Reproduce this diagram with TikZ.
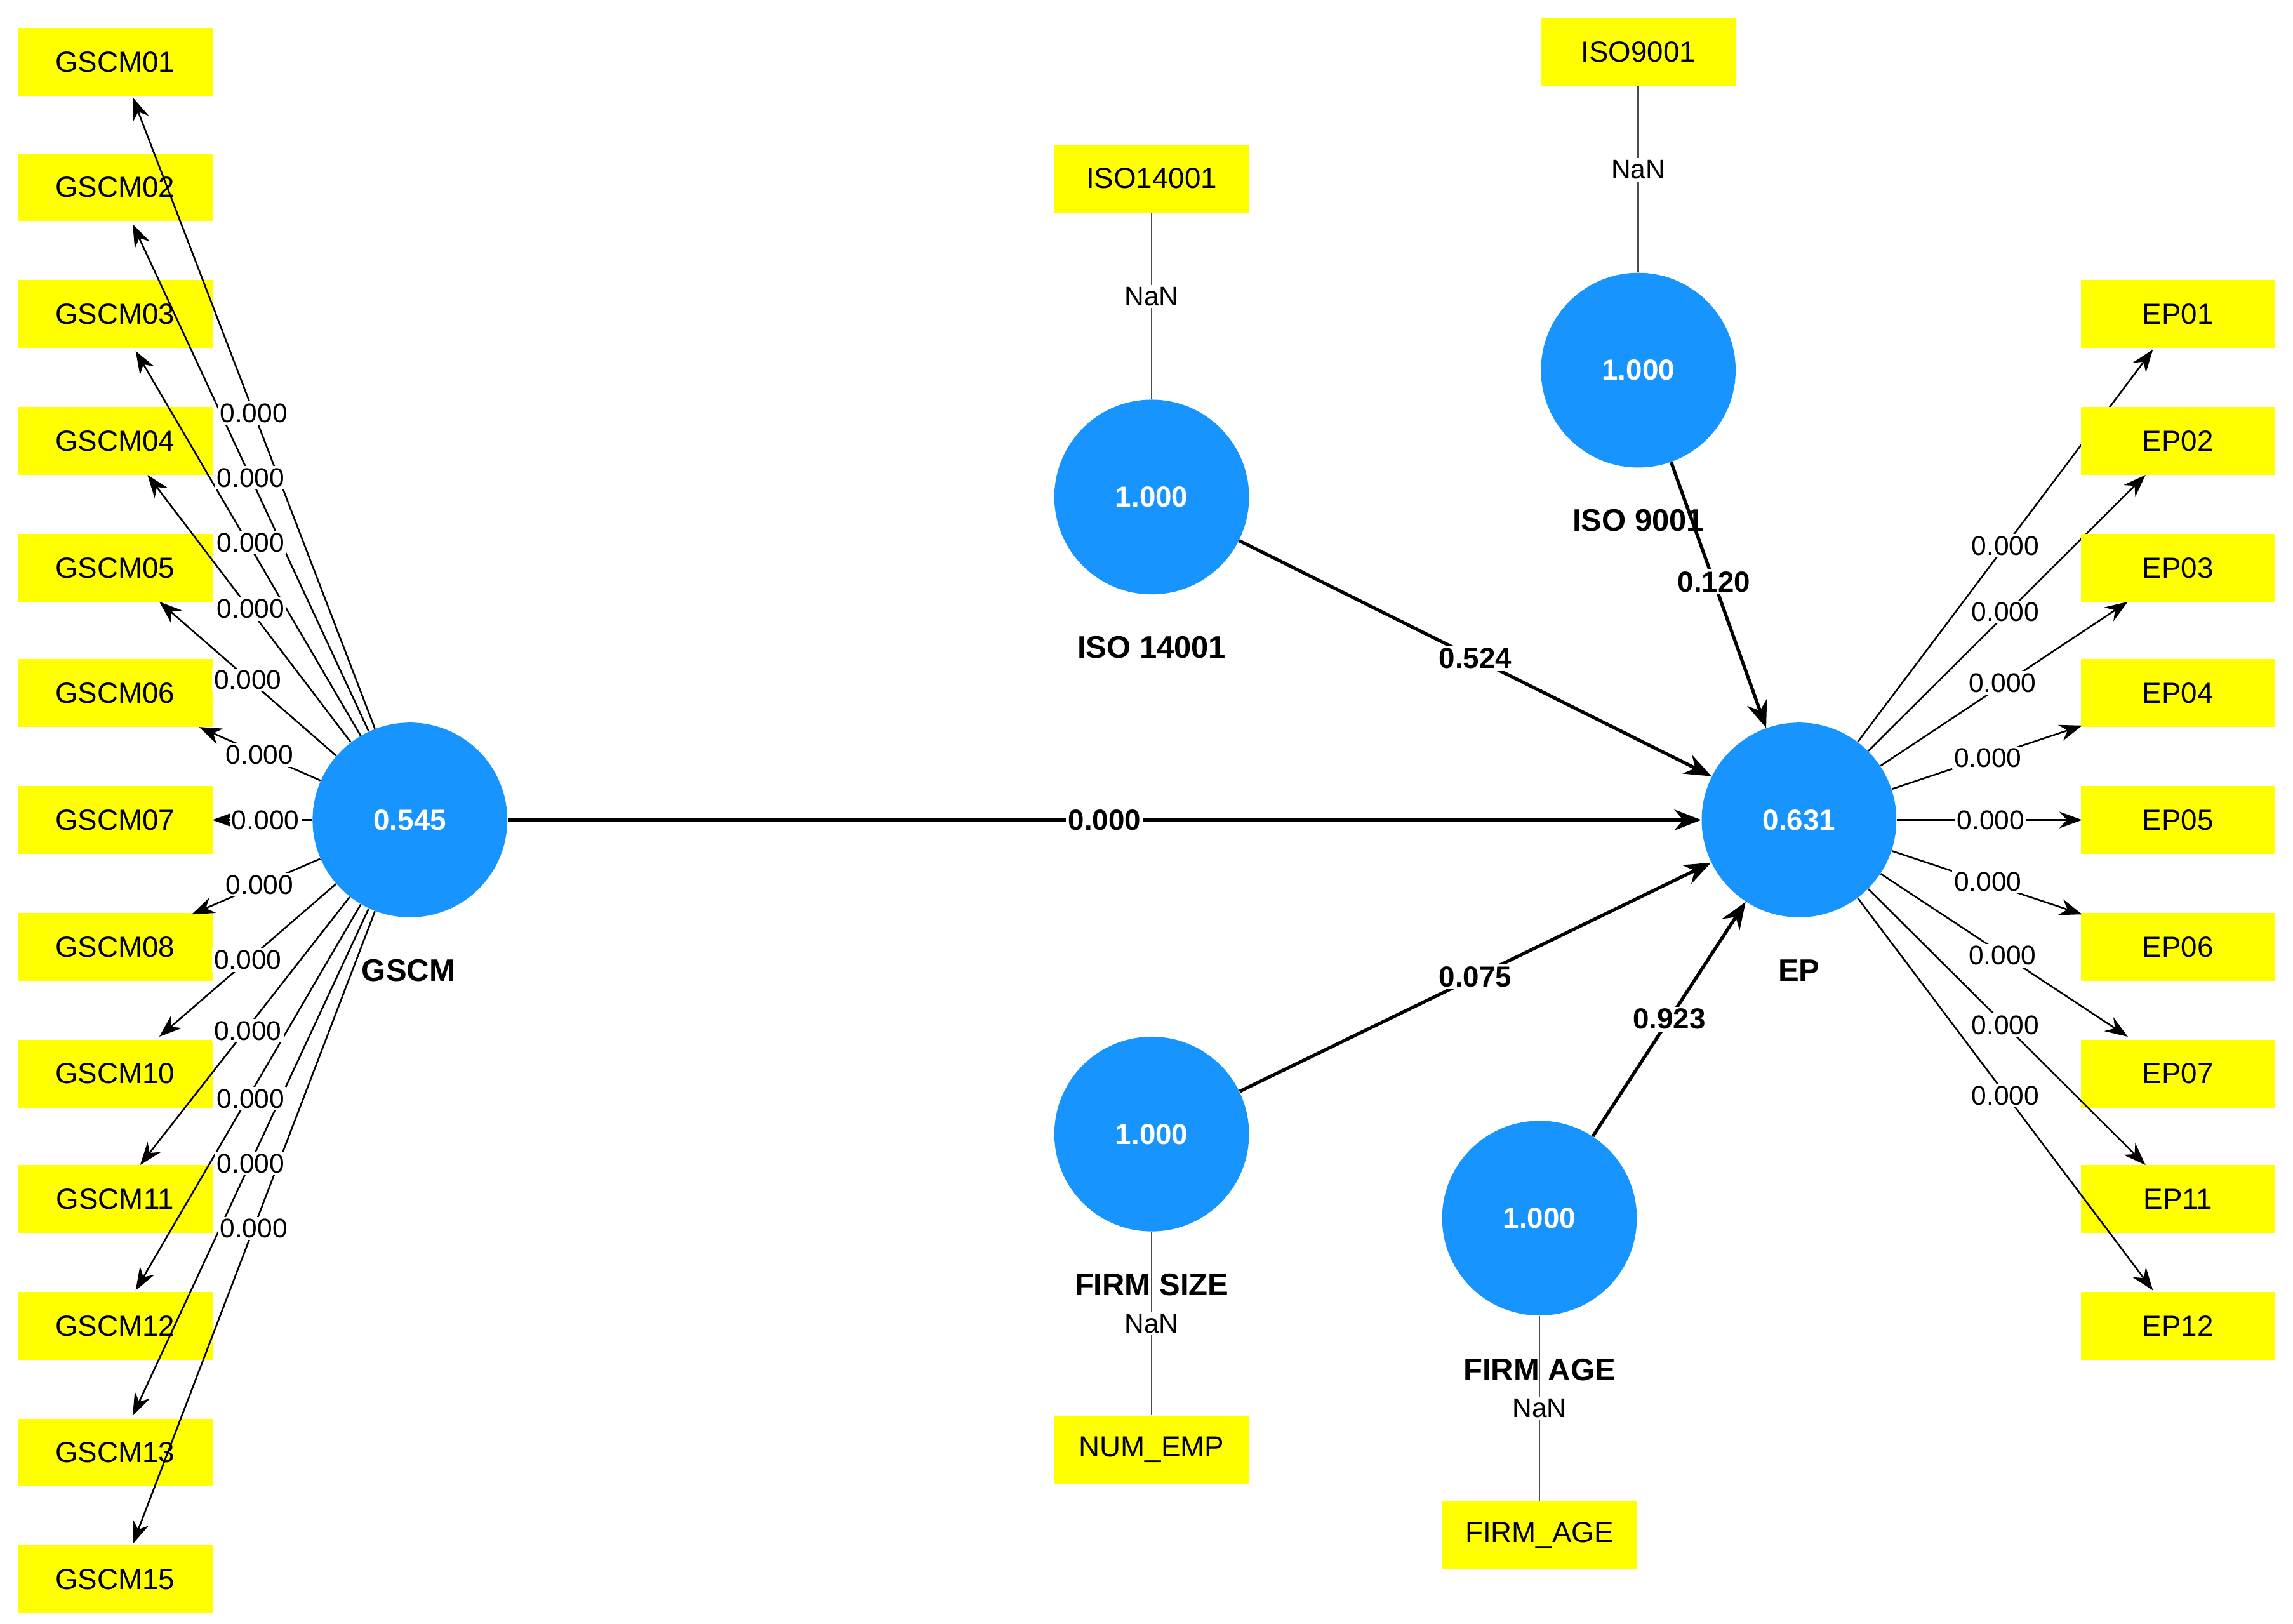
\documentclass[tikz,border=0pt]{standalone}
\usepackage{fontspec}
\setmainfont{Liberation Sans}
\usetikzlibrary{arrows.meta}
\definecolor{lv}{RGB}{24,148,255}
\definecolor{ind}{RGB}{255,255,0}
\begin{document}
\begin{tikzpicture}[x=0.025cm,y=-0.025cm,
 box/.style={fill=ind,minimum width=3.3cm,minimum height=1.15cm,inner sep=0pt,font=\fontsize{14}{16}\selectfont},
 lv/.style={circle,fill=lv,minimum size=3.3cm,inner sep=0pt,text=white,font=\bfseries\fontsize{14}{16}\selectfont},
 nm/.style={font=\bfseries\fontsize{15}{17}\selectfont},
 lab/.style={fill=white,inner sep=1pt,font=\fontsize{13}{15}\selectfont},
 blab/.style={fill=white,inner sep=1pt,font=\bfseries\fontsize{14}{16}\selectfont},
 il/.style={-{Stealth[length=11pt,width=8pt]},line width=0.8pt},
 sl/.style={-{Stealth[length=13pt,width=10pt]},line width=1.6pt},
 pl/.style={line width=0.8pt,draw=black!70}]
\useasboundingbox (0,0) rectangle (1555,1101);
\fill[white] (0,0) rectangle (1555,1101);
% latent variables
\node[lv] (gscm) at (278,556) {0.545};
\node[lv] (ep) at (1220,556) {0.631};
\node[lv] (iso14) at (781,337) {1.000};
\node[lv] (iso9) at (1111,251) {1.000};
\node[lv] (fs) at (781,769) {1.000};
\node[lv] (fa) at (1044,826) {1.000};
\node[nm] (ngscm) at (277,658) {GSCM};
\node[nm] (nep) at (1220,658) {EP};
\node[nm] (niso14) at (781,439) {ISO 14001};
\node[nm] (niso9) at (1111,353) {ISO 9001};
\node[nm] (nfs) at (781,871) {FIRM SIZE};
\node[nm] (nfa) at (1044,929) {FIRM AGE};
% single-indicator boxes
\node[box] (b14) at (781,121) {ISO14001};
\node[box] (b9) at (1111,35) {ISO9001};
\node[box] (bne) at (781,983) {NUM\_EMP};
\node[box] (bfa) at (1044,1041) {FIRM\_AGE};
\draw[pl] (b14) -- (iso14) node[lab,pos=0.45] {NaN};
\draw[pl] (b9) -- (iso9) node[lab,pos=0.45] {NaN};
\draw[pl] (bne) -- (fs) node[lab,pos=0.5] {NaN};
\draw[pl] (bfa) -- (fa) node[lab,pos=0.5] {NaN};
% GSCM indicators
\foreach \n/\y/\tx/\ty/\lx/\ly in {
 01/42/90/66/172/280, 02/127/90/152/170/324, 03/213/92/238/170/368,
 04/299/100/322/170/413, 05/385/108/408/168/461, 06/470/135/493/176/512,
 07/556/144/556/180/556, 08/642/130/620/176/600, 10/728/108/703/168/651,
 11/813/95/790/168/699, 12/899/92/875/170/745, 13/985/90/960/170/789,
 15/1071/90/1047/172/833}{
 \node[box] (g\n) at (78,\y) {GSCM\n};
 \coordinate (gt\n) at (\tx,\ty);
}
\foreach \n/\y/\tx/\ty/\lx/\ly in {
 01/42/90/66/172/280, 02/127/90/152/170/324, 03/213/92/238/170/368,
 04/299/100/322/170/413, 05/385/108/408/168/461, 06/470/135/493/176/512,
 07/556/144/556/180/556, 08/642/130/620/176/600, 10/728/108/703/168/651,
 11/813/95/790/168/699, 12/899/92/875/170/745, 13/985/90/960/170/789,
 15/1071/90/1047/172/833}{
 \draw[il] (gscm) -- (gt\n);
}
\foreach \n/\lx/\ly in {01/172/280,02/170/324,03/170/368,04/170/413,05/168/461,06/176/512,07/180/556,08/176/600,10/168/651,11/168/699,12/170/745,13/170/789,15/172/833}{
 \node[lab] (gl\n) at (\lx,\ly) {0.000};
}
% EP indicators
\foreach \n/\y/\tx/\ty in {01/213/1460/237, 02/299/1455/322, 03/385/1443/408,
 04/470/1412/492, 05/556/1412/556, 06/642/1412/620, 07/728/1443/703,
 11/813/1455/790, 12/899/1460/875}{
 \node[box] (e\n) at (1477,\y) {EP\n};
 \coordinate (et\n) at (\tx,\ty);
 \draw[il] (ep) -- (et\n);
}
\foreach \n/\lx/\ly in {01/1360/370,02/1360/415,03/1358/463,04/1348/514,05/1350/556,06/1348/598,07/1358/648,11/1360/695,12/1360/743}{
 \node[lab] (el\n) at (\lx,\ly) {0.000};
}
% structural paths
\draw[sl] (gscm) -- (ep) node[blab,pos=0.5] {0.000};
\draw[sl] (iso14) -- (ep) node[blab,pos=0.5] {0.524};
\draw[sl] (iso9) -- (ep) node[blab,pos=0.45] {0.120};
\draw[sl] (fs) -- (ep) node[blab,pos=0.5] {0.075};
\draw[sl] (fa) -- (ep) node[blab,pos=0.5] {0.923};
\end{tikzpicture}
\end{document}
